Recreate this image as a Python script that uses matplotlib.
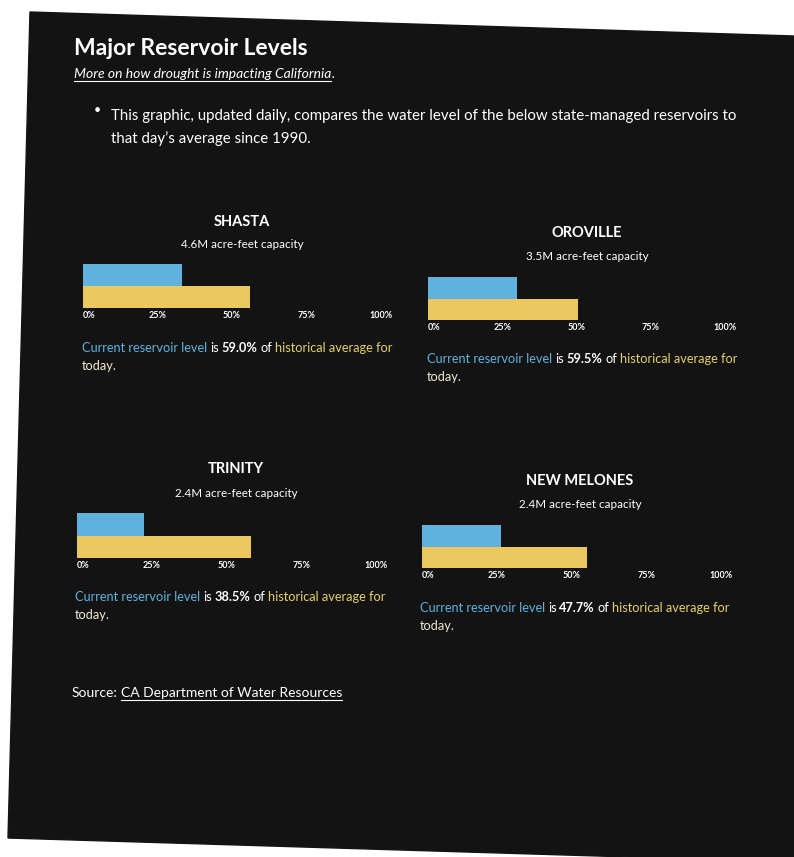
import matplotlib.pyplot as plt
from matplotlib.patches import Polygon

plt.rcParams['font.family'] = ['Lato', 'DejaVu Sans']

W, H = 794, 857

reservoirs = ["SHASTA", "OROVILLE", "TRINITY", "NEW MELONES"]
capacities = ["4.6M", "3.5M", "2.4M", "2.4M"]
current_level = [33.2, 29.9, 22.4, 26.4]      # % of capacity (blue bar)
historical_avg = [56.1, 50.4, 58.2, 55.2]     # % of capacity (yellow bar)
pct_of_average = [59.0, 59.5, 38.5, 47.7]
tick_values = [0, 25, 50, 75, 100]
tick_labels = ["0%", "25%", "50%", "75%", "100%"]

# layout in pixels: title center x, title baseline, capacity baseline,
# axes left, axes right, bar top, bar bottom, text x, text baseline
layout = [
    (242, 226, 248, 83, 381, 264, 308, 82, 352),
    (587, 237, 260, 428, 725, 277, 320, 427, 363),
    (236, 473, 497, 77, 376, 513, 558, 75, 601),
    (580, 485, 508, 422, 721, 525, 568, 420, 612),
]

BG = '#131313'
BLUE = '#5fb2de'
YELLOW = '#ebc95f'
TEXT_YELLOW = '#e4cf6c'
CREAM = '#efe9d2'

fig = plt.figure(figsize=(W / 100, H / 100), dpi=100)
fig.patch.set_facecolor('white')

# full-figure axes in pixel coordinates for the dark page and all text
page = fig.add_axes([0, 0, 1, 1])
page.set_xlim(0, W)
page.set_ylim(H, 0)
page.axis('off')
page.add_patch(Polygon([(30, 12), (794, 36), (794, 862), (8, 838)], closed=True, color=BG))

renderer = fig.canvas.get_renderer()


def write(x, y, pieces, size, ha='left'):
    # pieces: (text, color, weight, style, underline); a space goes between
    # pieces unless the next one starts with punctuation
    space = 0.22 * size * 100 / 72
    items = []
    for txt, color, weight, style, underline in pieces:
        t = page.text(x, y, txt, color=color, fontsize=size, fontweight=weight,
                      fontstyle=style, va='baseline', ha='left')
        w = t.get_window_extent(renderer).width
        items.append((t, w, color, underline, txt[0] in '.,'))
    total = sum(it[1] for it in items) + space * sum(not it[4] for it in items[1:])
    if ha == 'center':
        x -= total / 2
    for k, (t, w, color, underline, tight) in enumerate(items):
        if k > 0 and not tight:
            x += space
        t.set_x(x)
        if underline:
            page.plot([x, x + w], [y + 2.5, y + 2.5], color=color, lw=0.8)
        x += w


# header
write(74, 55, [("Major Reservoir Levels", 'white', 'bold', 'normal', False)], 16.5)
write(74, 78, [("More on how drought is impacting California", 'white', 'normal', 'italic', True),
               (".", 'white', 'normal', 'italic', False)], 10)
page.text(97, 114, "\u2022", color='white', fontsize=9, va='baseline', ha='center')
write(111, 120, [("This graphic, updated daily, compares the water level of the below "
                  "state-managed reservoirs to", 'white', 'normal', 'normal', False)], 10.8)
write(111, 143, [("that day\u2019s average since 1990.", 'white', 'normal', 'normal', False)], 10.8)

for i, name in enumerate(reservoirs):
    cx, ty, cy, left, right, top, bottom, tx, by = layout[i]

    write(cx, ty, [(name, 'white', 'bold', 'normal', False)], 10.5, ha='center')
    write(cx, cy, [(capacities[i] + " acre-feet capacity", 'white', 'normal', 'normal', False)],
          8.4, ha='center')

    ax = fig.add_axes([left / W, 1 - bottom / H, (right - left) / W, (bottom - top) / H])
    ax.barh([1], [current_level[i]], height=1, color=BLUE)
    ax.barh([0], [historical_avg[i]], height=1, color=YELLOW)
    ax.set_xlim(0, 100)
    ax.set_ylim(-0.5, 1.5)
    ax.set_xticks(tick_values)
    ax.set_xticklabels(tick_labels, fontweight='bold')
    ax.get_xticklabels()[0].set_ha('left')
    ax.tick_params(axis='x', length=0, pad=2.5, colors='white', labelsize=6.5)
    ax.set_yticks([])
    for s in ax.spines.values():
        s.set_visible(False)
    ax.patch.set_alpha(0)

    write(tx, by, [("Current reservoir level", BLUE, 'normal', 'normal', False),
                   ("is", 'white', 'normal', 'normal', False),
                   (f"{pct_of_average[i]:.1f}%", 'white', 'bold', 'normal', False),
                   ("of", 'white', 'normal', 'normal', False),
                   ("historical average for", TEXT_YELLOW, 'normal', 'normal', False)], 9.2)
    write(tx, by + 18, [("today.", CREAM, 'normal', 'normal', False)], 9.2)

# source line
write(72, 697, [("Source:", 'white', 'normal', 'normal', False),
                ("CA Department of Water Resources", 'white', 'normal', 'normal', True)], 10)

plt.savefig('out.png', dpi=100, facecolor=fig.get_facecolor())
